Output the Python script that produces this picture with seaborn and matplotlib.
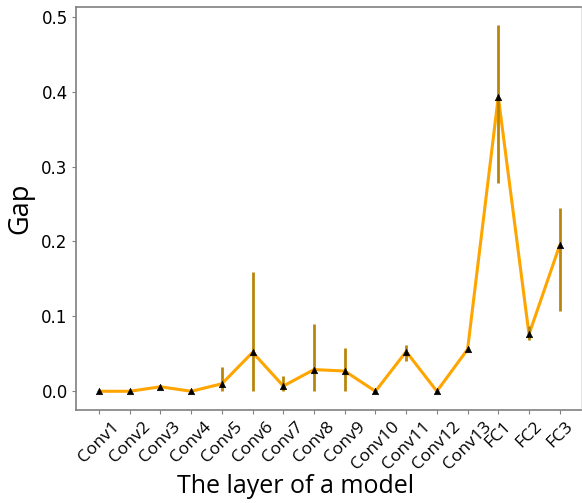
import matplotlib
matplotlib.use("Agg")
import matplotlib.pyplot as plt
import seaborn as sns
import pandas as pd

# Per-layer gap: mean with lower/upper bounds of the spread
layers = ["Conv1", "Conv2", "Conv3", "Conv4", "Conv5", "Conv6", "Conv7", "Conv8",
          "Conv9", "Conv10", "Conv11", "Conv12", "Conv13", "FC1", "FC2", "FC3"]
gap_mean = [0.000, 0.000, 0.006, 0.000, 0.010, 0.052, 0.007, 0.029,
            0.027, 0.000, 0.053, 0.000, 0.056, 0.393, 0.076, 0.195]
gap_low = [0.000, 0.000, 0.003, 0.000, 0.000, 0.000, 0.000, 0.000,
           0.000, 0.000, 0.041, 0.000, 0.052, 0.278, 0.068, 0.107]
gap_high = [0.001, 0.001, 0.009, 0.001, 0.033, 0.159, 0.020, 0.090,
            0.058, 0.001, 0.062, 0.001, 0.059, 0.489, 0.087, 0.245]
y_ticks = [0.0, 0.1, 0.2, 0.3, 0.4, 0.5]

df = pd.DataFrame({"layer": layers, "pos": range(len(layers)),
                   "gap": gap_mean, "low": gap_low, "high": gap_high})

sns.set_style("white")
plt.rcParams.update({"text.color": "black", "axes.labelcolor": "black",
                     "xtick.color": "black", "ytick.color": "black"})
fig = plt.figure(figsize=(5.82, 5.03), dpi=100)
ax = fig.add_axes([0.1306, 0.1849, 0.867, 0.8011])

sns.lineplot(data=df, x="pos", y="gap", color="orange", linewidth=2.2,
             ax=ax, zorder=2)
ax.vlines(df["pos"], df["low"], df["high"], color="#B8860B", linewidth=2.0,
          zorder=3)
sns.scatterplot(data=df, x="pos", y="gap", marker="^", color="black", s=22,
                edgecolor="black", linewidth=0.4, ax=ax, zorder=4)

ax.set_xlim(-0.75, 15.68)
ax.set_ylim(-0.025, 0.513)
ax.set_xticks(df["pos"])
ax.set_xticklabels(layers, rotation=45, ha="center",
                   fontsize=12.5, family="Open Sans")
ax.set_yticks(y_ticks)
ax.set_yticklabels([f"{v:.1f}" for v in y_ticks], fontsize=12)
ax.tick_params(axis="both", which="both", length=3, width=0.8,
               color="#808080", labelcolor="black",
               bottom=True, left=True, pad=3)

ax.set_xlabel("The layer of a model", fontsize=18, family="Open Sans",
              color="black")
ax.xaxis.set_label_coords(0.436, -0.158)
ax.set_ylabel("Gap", fontsize=19.5, family="Open Sans", color="black",
              labelpad=5)

for side in ["left", "bottom", "top"]:
    ax.spines[side].set_color("#808080")
    ax.spines[side].set_linewidth(1.2)
ax.spines["right"].set_color("#e6e6e6")
ax.spines["right"].set_linewidth(0.8)

fig.savefig("out.png", dpi=100)
